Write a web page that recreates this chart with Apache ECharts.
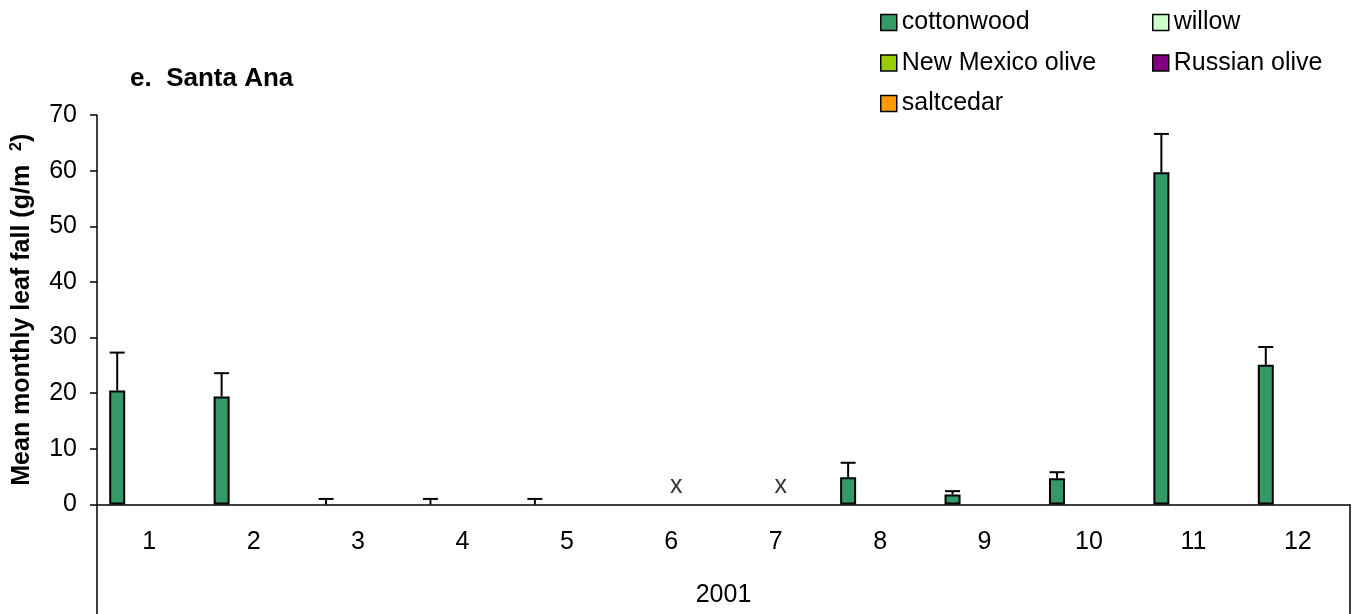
<!DOCTYPE html>
<html>
<head>
<meta charset="utf-8">
<title>Santa Ana monthly leaf fall</title>
<script src="https://cdn.jsdelivr.net/npm/echarts@6/dist/echarts.min.js"></script>
<style>
  html, body { margin: 0; padding: 0; background: #fff; }
  #chart { width: 1356px; height: 614px; }
</style>
</head>
<body>
<div id="chart"></div>
<script>
// Months of 2001 sampled at Santa Ana
const months = ['1', '2', '3', '4', '5', '6', '7', '8', '9', '10', '11', '12'];
const yearLabel = ['2001'];

// Mean monthly leaf fall (g/m²) per species; null = month not sampled
const cottonwood   = [20.5, 19.4, 0, 0, 0, null, null, 4.9, 1.8, 4.7, 59.7, 25.1];
const willow       = [0, 0, 0, 0, 0, null, null, 0, 0, 0, 0, 0];
const nmOlive      = [0, 0, 0, 0, 0, null, null, 0, 0, 0, 0, 0];
const russianOlive = [0, 0, 0, 0, 0, null, null, 0, 0, 0, 0, 0];
const saltcedar    = [0, 0, 0, 0, 0, null, null, 0, 0, 0, 0, 0];

// Upper end of the cottonwood error bars (mean + SE)
const cottonwoodUpper = [27.3, 23.6, 1.0, 1.0, 1.0, null, null, 7.5, 2.4, 5.8, 66.6, 28.3];

// Months with no collection, marked with an "x"
const missingMonths = ['6', '7'];

// Y axis ticks
const yMin = 0, yMax = 70, yStep = 10;

const FONT = "'Liberation Sans', Arial, Helvetica, sans-serif";
const BAR_W = 16;

const speciesSeries = [
  { name: 'cottonwood',       data: cottonwood,   color: '#339966' },
  { name: 'willow',           data: willow,       color: '#CCFFCC' },
  { name: 'New Mexico olive', data: nmOlive,      color: '#99CC00' },
  { name: 'Russian olive',    data: russianOlive, color: '#800080' },
  { name: 'saltcedar',        data: saltcedar,    color: '#FF9900' }
];

// Horizontal shift from the category centre to the cottonwood bar centre
const cottonOffset = -((speciesSeries.length - 1) / 2) * BAR_W;

const errorData = months
  .map((m, i) => [i, cottonwood[i], cottonwoodUpper[i]])
  .filter(d => d[1] != null && d[2] != null);

// Zero-height bars get no outline so they don't thicken the axis line
const barItems = arr => arr.map(v => (v === 0 ? { value: 0, itemStyle: { borderWidth: 0 } } : v));

const chart = echarts.init(document.getElementById('chart'), null, { renderer: 'canvas' });

const legendCommon = {
  orient: 'vertical',
  top: 10,
  padding: 0,
  itemWidth: 16,
  itemHeight: 16,
  itemGap: 15.5,
  icon: 'rect',
  selectedMode: false,
  itemStyle: { borderColor: '#000', borderWidth: 1.5 },
  textStyle: { fontSize: 25, lineHeight: 25, color: '#000', fontFamily: FONT }
};

chart.setOption({
  animation: false,
  backgroundColor: '#fff',
  textStyle: { fontFamily: FONT },
  title: {
    text: 'e.  Santa Ana',
    left: 130,
    top: 66,
    padding: 0,
    textStyle: { fontSize: 26, fontWeight: 'bold', color: '#000', fontFamily: FONT }
  },
  legend: [
    Object.assign({}, legendCommon, { left: 880, data: ['cottonwood', 'New Mexico olive', 'saltcedar'] }),
    Object.assign({}, legendCommon, { left: 1152, data: ['willow', 'Russian olive'] })
  ],
  grid: { left: 97, right: 6, top: 115, bottom: 109.5, containLabel: false, outerBoundsMode: 'none' },
  xAxis: [
    {
      type: 'category',
      data: months,
      position: 'bottom',
      axisLine: { show: true, lineStyle: { color: '#000', width: 1.5 } },
      axisTick: { show: false },
      axisLabel: { fontSize: 25, color: '#000', margin: 25, fontFamily: FONT },
      splitLine: { show: false }
    },
    {
      type: 'category',
      data: yearLabel,
      position: 'bottom',
      axisLine: { show: false },
      axisTick: { show: true, length: 112, lineStyle: { color: '#000', width: 1.5 } },
      axisLabel: { fontSize: 25, color: '#000', margin: 78, fontFamily: FONT },
      splitLine: { show: false }
    }
  ],
  yAxis: {
    type: 'value',
    min: yMin,
    max: yMax,
    interval: yStep,
    name: 'Mean monthly leaf fall (g/m  {sup|2})',
    nameLocation: 'middle',
    nameRotate: 90,
    nameGap: 62,
    nameTextStyle: {
      fontSize: 25,
      fontWeight: 'bold',
      color: '#000',
      fontFamily: FONT,
      rich: {
        sup: { fontSize: 16, fontWeight: 'bold', color: '#000', verticalAlign: 'top', padding: [0, 0, 10, 0], fontFamily: FONT }
      }
    },
    axisLine: { show: true, lineStyle: { color: '#000', width: 1.5 } },
    axisTick: { show: true, length: 7, inside: false, lineStyle: { color: '#000', width: 1.5 } },
    axisLabel: { fontSize: 25, color: '#000', margin: 20, fontFamily: FONT },
    splitLine: { show: false }
  },
  series: speciesSeries.map(s => ({
    name: s.name,
    type: 'bar',
    xAxisIndex: 0,
    data: barItems(s.data),
    barWidth: BAR_W,
    barGap: '0%',
    itemStyle: { color: s.color, borderColor: '#000', borderWidth: 2 },
    emphasis: { disabled: true }
  })).concat([
    {
      name: 'cottonwood SE',
      type: 'custom',
      xAxisIndex: 0,
      data: errorData,
      z: 5,
      renderItem: function (params, api) {
        const idx = api.value(0);
        const base = api.coord([idx, api.value(1)]);
        const top = api.coord([idx, api.value(2)]);
        const x = base[0] + cottonOffset;
        const cap = 7.5;
        const style = { stroke: '#000', lineWidth: 2 };
        return {
          type: 'group',
          children: [
            { type: 'line', shape: { x1: x, y1: base[1], x2: x, y2: top[1] }, style: style },
            { type: 'line', shape: { x1: x - cap, y1: top[1], x2: x + cap, y2: top[1] }, style: style }
          ]
        };
      }
    },
    {
      name: 'not sampled',
      type: 'scatter',
      xAxisIndex: 0,
      data: missingMonths.map(m => [m, 0]),
      symbolSize: 0,
      silent: true,
      label: {
        show: true,
        position: 'inside',
        offset: [5, -18],
        formatter: 'x',
        fontSize: 25,
        color: '#000',
        fontFamily: FONT
      }
    }
  ])
});
</script>
</body>
</html>
